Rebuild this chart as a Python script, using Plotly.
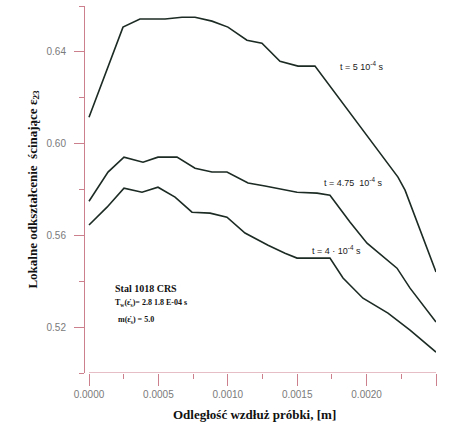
import plotly.graph_objects as go

# t = 5e-4 s
x_t5 = [0.0, 0.00013, 0.000245, 0.000367, 0.000548, 0.00067, 0.000764, 0.000886, 0.001001,
        0.001138, 0.001246, 0.001376, 0.001506, 0.001628, 0.00183, 0.002024, 0.002226, 0.002277, 0.0025]
y_t5 = [0.6115, 0.6320, 0.6508, 0.6543, 0.6543, 0.6551, 0.6551, 0.6534, 0.6508,
        0.6451, 0.6438, 0.6359, 0.6338, 0.6338, 0.6176, 0.6015, 0.5854, 0.5797, 0.5440]

# t = 4.75e-4 s
x_t475 = [0.0, 0.000137, 0.000252, 0.000389, 0.000497, 0.000634, 0.000764, 0.000886, 0.000994, 0.001146,
          0.001268, 0.00139, 0.001499, 0.001643, 0.001736, 0.00188, 0.002003, 0.002219, 0.002313, 0.0025]
y_t475 = [0.5749, 0.5876, 0.5941, 0.5919, 0.5941, 0.5941, 0.5893, 0.5876, 0.5876, 0.5828,
          0.5815, 0.5802, 0.5788, 0.5784, 0.5775, 0.5658, 0.5566, 0.5457, 0.5370, 0.5222]

# t = 4e-4 s
x_t4 = [0.0, 0.00013, 0.000252, 0.000382, 0.000497, 0.00062, 0.000742, 0.000872, 0.000994, 0.001124,
        0.00129, 0.001412, 0.001499, 0.001736, 0.00183, 0.001974, 0.002154, 0.002313, 0.0025]
y_t4 = [0.5645, 0.5723, 0.5806, 0.5788, 0.5810, 0.5767, 0.5701, 0.5697, 0.5679, 0.5610,
        0.5557, 0.5522, 0.5501, 0.5501, 0.5414, 0.5326, 0.5261, 0.5187, 0.5091]

curve_labels = ["t = 5 10<sup>-4</sup> s", "t = 4.75  10<sup>-4</sup> s", "t = 4 · 10<sup>-4</sup> s"]
label_x = [0.001794, 0.001679, 0.001592]
label_y = [0.6338, 0.5832, 0.5536]

inset_lines = ["Stal 1018 CRS",
               "T<sub>w</sub>(ε̇<sub>s</sub>)= 2.8 1.8 E-04 s",
               "m(ε̇<sub>s</sub>) = 5.0"]

x_title = "Odległość wzdłuż próbki, [m]"
y_title = "Lokalne odkształcenie  ścinające ε<sub>23</sub>"

axis_col = "#cc7f8c"
line_col = "#1c2b24"
tick_font = dict(family="Liberation Sans Narrow, Arial Narrow, Liberation Sans, Arial", size=10, color="#7a7a7a")
serif = "Liberation Serif, Times New Roman, serif"

fig = go.Figure()
for xs, ys in [(x_t5, y_t5), (x_t475, y_t475), (x_t4, y_t4)]:
    fig.add_trace(go.Scatter(x=xs, y=ys, mode="lines",
                             line=dict(color=line_col, width=1.6), showlegend=False))

for txt, lx, ly in zip(curve_labels, label_x, label_y):
    fig.add_annotation(x=lx, y=ly, text=txt, showarrow=False, xanchor="left", yanchor="middle",
                       font=dict(family="Liberation Sans, Arial", size=9, color="#1a1a1a"))

fig.add_annotation(x=0.000173, y=0.5370, text="<b>" + inset_lines[0] + "</b>", showarrow=False,
                   xanchor="left", yanchor="middle", font=dict(family=serif, size=10, color="#111111"))
fig.add_annotation(x=0.000173, y=0.5304, text="<b>" + inset_lines[1] + "</b>", showarrow=False,
                   xanchor="left", yanchor="middle", font=dict(family=serif, size=8, color="#111111"))
fig.add_annotation(x=0.000195, y=0.5230, text="<b>" + inset_lines[2] + "</b>", showarrow=False,
                   xanchor="left", yanchor="middle", font=dict(family=serif, size=8, color="#111111"))

fig.add_annotation(xref="paper", yref="paper", x=0.484, y=-0.113, text="<b>" + x_title + "</b>",
                   showarrow=False, xanchor="center", yanchor="middle",
                   font=dict(family=serif, size=13, color="#111111"))
fig.add_annotation(xref="paper", yref="paper", x=-0.148, y=0.50, text="<b>" + y_title + "</b>",
                   showarrow=False, xanchor="center", yanchor="middle", textangle=-90,
                   font=dict(family=serif, size=13, color="#111111"))

# x axis baseline (offset from the y axis like the original)
fig.add_shape(type="line", xref="x", yref="y", x0=0.0, x1=0.0025, y0=0.50, y1=0.50,
              line=dict(color=axis_col, width=1))

fig.update_xaxes(range=[-0.0000288, 0.0025], showgrid=False, zeroline=False, showline=False,
                 tickvals=[0.0, 0.0005, 0.001, 0.0015, 0.002, 0.0025], tickformat=".4f",
                 ticks="outside", ticklen=12, tickwidth=1, tickcolor=axis_col, tickfont=tick_font,
                 minor=dict(tickvals=[0.00025, 0.00075, 0.00125, 0.00175, 0.00225],
                            ticks="outside", ticklen=5, tickwidth=1, tickcolor=axis_col))
fig.update_yaxes(range=[0.50, 0.66], showgrid=False, zeroline=False, showline=True, linecolor=axis_col,
                 linewidth=1, tickvals=[0.52, 0.56, 0.60, 0.64], tickformat=".2f",
                 ticks="outside", ticklen=10, tickwidth=1, tickcolor=axis_col, tickfont=tick_font,
                 ticklabelstandoff=6,
                 minor=dict(tickvals=[0.50, 0.54, 0.58, 0.62, 0.66],
                            ticks="outside", ticklen=5, tickwidth=1, tickcolor=axis_col))

fig.update_layout(width=451, height=425, margin=dict(l=85, r=15, t=6, b=52),
                  plot_bgcolor="white", paper_bgcolor="white")

fig.write_html("out.html")
